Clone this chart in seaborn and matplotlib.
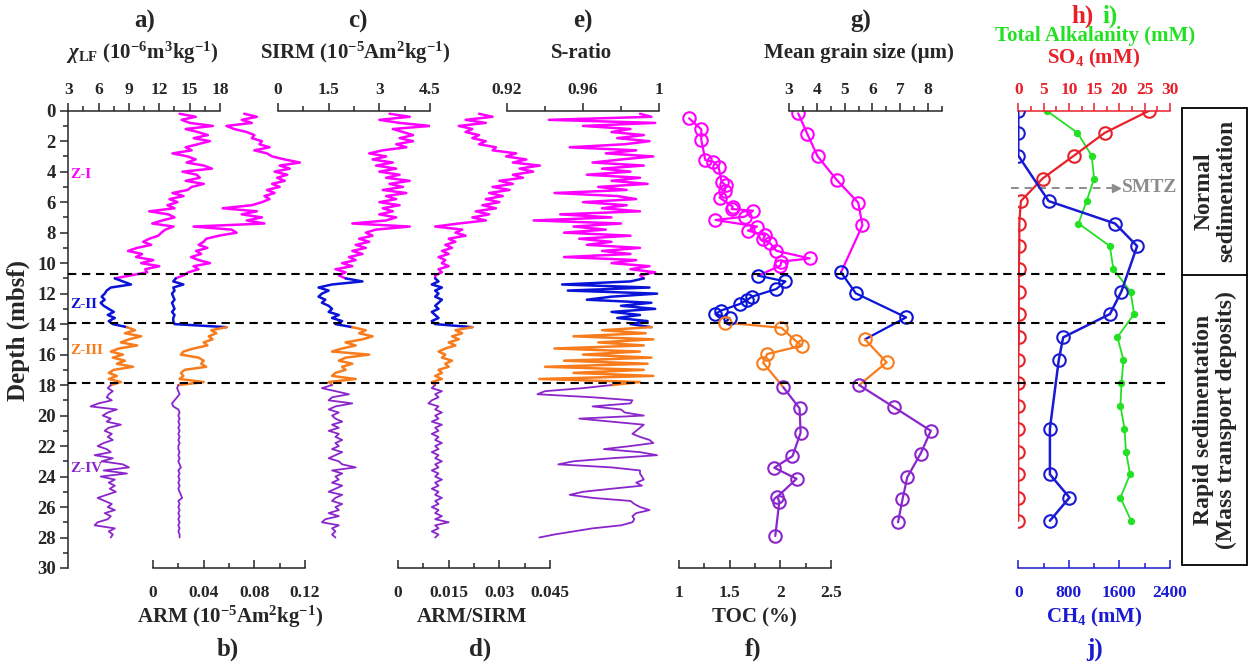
import numpy as np
import pandas as pd
import matplotlib.pyplot as plt
import matplotlib.ticker as mticker
from matplotlib.patches import Rectangle
from matplotlib.lines import Line2D
import seaborn as sns

sns.set_style('ticks')
plt.rcParams['font.family'] = ['Liberation Serif', 'DejaVu Serif']
plt.rcParams['font.weight'] = 'bold'
plt.rcParams['mathtext.fontset'] = 'custom'
plt.rcParams['mathtext.rm'] = 'Liberation Serif:bold'
plt.rcParams['mathtext.it'] = 'Liberation Serif:italic:bold'
plt.rcParams['mathtext.bf'] = 'Liberation Serif:bold'

# ---------------- data ----------------
# magnetic records, 20 cm sampling from 0.2 to 28.0 mbsf
depth = np.round(np.arange(0.2, 28.01, 0.2), 1)

chi_lf = [
    # Z-I
    14.0, 15.6, 14.2, 15.0, 17.3, 14.6, 15.8, 16.8, 15.4, 17.0,
    15.8, 14.6, 15.2, 13.3, 14.8, 15.6, 14.7, 16.4, 17.2, 14.3,
    15.7, 16.0, 14.6, 16.4, 15.2, 14.8, 13.3, 14.4, 13.0, 13.8,
    12.8, 13.5, 11.0, 12.9, 13.5, 12.3, 11.3, 13.4, 12.6, 12.2,
    11.9, 11.0, 10.4, 11.2, 9.8, 8.9, 10.3, 9.7, 11.4, 10.2,
    12.0, 10.6, 10.8, 9.2,
    # Z-II
    7.6, 8.4, 9.2, 7.2, 6.8, 6.6, 6.3, 6.6, 6.2, 6.5, 7.0, 7.5, 6.9, 7.6, 7.0, 7.4,
    # Z-III
    8.8, 9.6, 8.6, 10.2, 9.0, 8.2, 9.8, 8.0, 7.2, 8.4, 7.4, 8.6, 7.8, 9.4, 7.5, 7.0, 7.8, 7.0, 8.2,
    # Z-IV
    7.2, 6.9, 7.4, 7.0, 6.8, 7.3, 6.0, 5.2, 7.8, 6.9,
    6.4, 7.2, 6.8, 8.2, 7.0, 6.6, 7.3, 6.9, 7.4, 6.5,
    5.9, 6.8, 7.2, 5.6, 7.4, 6.3, 8.4, 9.0, 6.5, 8.8,
    6.2, 7.6, 7.0, 7.6, 7.1, 7.7, 6.8, 5.9, 6.6, 7.3,
    6.9, 7.6, 6.6, 7.2, 6.9, 5.9, 5.6, 7.6, 7.0, 7.4,
    7.2,
]

arm = [
    # Z-I
    0.072, 0.082, 0.070, 0.078, 0.058, 0.064, 0.074, 0.080, 0.078, 0.086,
    0.084, 0.092, 0.080, 0.090, 0.094, 0.104, 0.116, 0.100, 0.108, 0.096,
    0.106, 0.098, 0.104, 0.094, 0.100, 0.090, 0.096, 0.088, 0.092, 0.086,
    0.078, 0.055, 0.082, 0.070, 0.086, 0.074, 0.088, 0.032, 0.062, 0.066,
    0.052, 0.042, 0.040, 0.036, 0.043, 0.034, 0.038, 0.030, 0.036, 0.045,
    0.032, 0.036, 0.028, 0.024,
    # Z-II
    0.018, 0.016, 0.024, 0.016, 0.017, 0.015, 0.016, 0.017, 0.015, 0.016,
    0.017, 0.015, 0.017, 0.016, 0.016, 0.017,
    # Z-III
    0.058, 0.046, 0.050, 0.044, 0.047, 0.040, 0.043, 0.032, 0.024, 0.022,
    0.036, 0.040, 0.038, 0.042, 0.025, 0.022, 0.024, 0.021, 0.040,
    # Z-IV
    0.020, 0.019, 0.020, 0.021, 0.019, 0.017, 0.015, 0.016, 0.020, 0.021,
    0.020, 0.021, 0.020, 0.021, 0.020, 0.021, 0.020, 0.021, 0.020, 0.021,
    0.020, 0.020, 0.021, 0.020, 0.021, 0.020, 0.021, 0.022, 0.020, 0.021,
    0.020, 0.021, 0.020, 0.021, 0.020, 0.021, 0.022, 0.023, 0.020, 0.021,
    0.020, 0.021, 0.020, 0.021, 0.020, 0.021, 0.020, 0.021, 0.020, 0.021,
    0.021,
]

sirm = [
    # Z-I
    3.3, 3.9, 3.0, 3.6, 4.5, 3.4, 3.7, 4.0, 3.6, 4.0,
    3.5, 3.8, 3.1, 2.7, 3.2, 2.8, 3.4, 2.9, 3.5, 3.0,
    3.6, 3.2, 3.9, 3.3, 3.7, 3.1, 3.8, 3.2, 3.5, 3.0,
    3.6, 3.1, 3.4, 3.0, 3.5, 3.2, 2.2, 3.9, 2.9, 2.6,
    2.8, 2.4, 2.7, 2.3, 2.6, 2.2, 2.5, 2.1, 2.3, 1.9,
    2.2, 1.7, 2.0, 1.8,
    # Z-II
    2.0, 2.5, 1.6, 1.2, 1.5, 1.3, 1.2, 1.4, 1.3, 1.5, 1.6, 1.5, 1.8, 1.6, 1.9, 1.7,
    # Z-III
    2.2, 2.6, 2.4, 2.8, 2.5, 2.0, 2.3, 1.9, 1.6, 2.7, 2.0, 1.8, 2.2, 1.9, 2.0, 1.7, 1.6, 2.3, 1.5,
    # Z-IV
    1.6, 1.3, 1.7, 2.1, 1.6, 1.5, 2.2, 1.7, 1.5, 1.8,
    1.6, 1.7, 1.9, 1.6, 1.8, 1.5, 1.8, 1.7, 1.9, 1.7,
    1.8, 1.6, 1.9, 1.7, 1.5, 1.8, 1.9, 2.3, 1.6, 1.9,
    1.7, 1.8, 1.6, 1.9, 1.7, 1.5, 1.9, 1.7, 1.6, 1.9,
    1.7, 1.8, 1.5, 1.8, 1.4, 1.3, 1.8, 1.6, 1.7, 1.6,
    1.7,
]

arm_sirm = [
    # Z-I
    0.024, 0.028, 0.020, 0.026, 0.018, 0.022, 0.020, 0.024, 0.022, 0.026,
    0.024, 0.029, 0.028, 0.035, 0.032, 0.038, 0.034, 0.042, 0.036, 0.040,
    0.034, 0.037, 0.030, 0.034, 0.028, 0.033, 0.027, 0.031, 0.026, 0.030,
    0.025, 0.029, 0.023, 0.027, 0.022, 0.026, 0.018, 0.011, 0.019, 0.017,
    0.020, 0.015, 0.017, 0.014, 0.016, 0.013, 0.015, 0.012, 0.014, 0.013,
    0.015, 0.012, 0.013, 0.011,
    # Z-II
    0.011, 0.012, 0.010, 0.013, 0.011, 0.012, 0.011, 0.013, 0.012, 0.011,
    0.012, 0.010, 0.011, 0.012, 0.010, 0.011,
    # Z-III
    0.022, 0.017, 0.019, 0.016, 0.018, 0.015, 0.017, 0.014, 0.012, 0.014,
    0.013, 0.016, 0.014, 0.015, 0.012, 0.013, 0.011, 0.013, 0.010,
    # Z-IV
    0.011, 0.010, 0.013, 0.011, 0.012, 0.010, 0.009, 0.012, 0.011, 0.013,
    0.011, 0.012, 0.010, 0.013, 0.011, 0.012, 0.010, 0.012, 0.011, 0.013,
    0.011, 0.012, 0.010, 0.012, 0.011, 0.013, 0.011, 0.012, 0.010, 0.012,
    0.011, 0.013, 0.011, 0.012, 0.010, 0.012, 0.011, 0.013, 0.011, 0.012,
    0.010, 0.012, 0.011, 0.013, 0.011, 0.015, 0.011, 0.012, 0.010, 0.012,
    0.011,
]

s_ratio = [
    # Z-I
    0.990, 0.996, 0.942, 0.998, 0.960, 0.985, 0.975, 0.992, 0.978, 0.995,
    0.982, 0.953, 0.988, 0.972, 0.997, 0.980, 0.965, 0.992, 0.970, 0.985,
    0.962, 0.990, 0.975, 0.994, 0.968, 0.983, 0.945, 0.978, 0.988, 0.960,
    0.983, 0.970, 0.990, 0.948, 0.975, 0.934, 0.980, 0.955, 0.972, 0.950,
    0.985, 0.958, 0.975, 0.962, 0.990, 0.970, 0.985, 0.950, 0.988, 0.975,
    0.995, 0.985, 0.998, 0.990,
    # Z-II
    0.992, 0.985, 0.949, 0.995, 0.952, 0.999, 0.975, 0.962, 0.996, 0.980,
    0.998, 0.975, 0.990, 0.978, 0.994, 0.985,
    # Z-III
    0.996, 0.970, 0.993, 0.955, 0.997, 0.968, 0.992, 0.945, 0.990, 0.960,
    0.996, 0.950, 0.994, 0.940, 0.992, 0.955, 0.997, 0.937, 0.990,
    # Z-IV
    0.975, 0.960, 0.940, 0.936, 0.965, 0.986, 0.985, 0.965, 0.980, 0.982,
    0.992, 0.958, 0.975, 0.992, 0.990, 0.988, 0.986, 0.990, 0.995, 0.997,
    0.985, 0.971, 0.990, 0.999, 0.975, 0.955, 0.947, 0.975, 0.990, 0.990,
    0.991, 0.992, 0.988, 0.991, 0.975, 0.960, 0.953, 0.965, 0.985, 0.987,
    0.990, 0.995, 0.988, 0.986, 0.987, 0.986, 0.980, 0.965, 0.955, 0.945,
    0.937,
]

# TOC
toc_depth = [0.5, 1.22, 1.92, 3.24, 3.35, 3.67, 4.66, 4.88, 5.3, 5.7, 6.3, 6.45,
             6.56, 6.95, 7.17, 7.6, 7.87, 8.16, 8.44, 8.7, 9.19, 9.69, 9.9, 10.17,
             10.82, 11.2, 11.7, 12.2, 12.42, 12.68, 13.12, 13.34, 13.62,
             13.9, 14.24, 15.09, 15.42, 15.96, 16.53,
             18.15, 19.53, 21.13, 22.66, 23.42, 24.15, 25.33, 25.65, 27.9]
toc = [1.10, 1.22, 1.22, 1.26, 1.34, 1.39, 1.42, 1.46, 1.45, 1.40, 1.53, 1.52,
       1.73, 1.65, 1.36, 1.77, 1.68, 1.85, 1.83, 1.90, 1.96, 2.29, 2.01, 2.00,
       1.78, 2.05, 1.96, 1.72, 1.67, 1.60, 1.41, 1.36, 1.50,
       1.45, 2.01, 2.15, 2.21, 1.87, 1.83,
       2.03, 2.19, 2.20, 2.12, 1.94, 2.16, 1.97, 1.99, 1.95]
toc_counts = [24, 9, 6, 9]

# mean grain size
grain_depth = [0.17, 1.53, 3.0, 4.55, 6.04, 7.52,
               10.6, 11.98, 13.56,
               15.0, 16.51,
               18.0, 19.46, 21.0, 22.5, 24.05, 25.5, 27.0]
grain = [3.33, 3.66, 4.03, 4.72, 5.49, 5.64,
         4.87, 5.40, 7.21,
         5.73, 6.51,
         5.52, 6.78, 8.10, 7.73, 7.25, 7.08, 6.92]
grain_counts = [6, 3, 2, 7]

# pore water
pw_depth = [0, 1.45, 2.95, 4.45, 5.93, 7.4, 8.88, 10.39, 11.87, 13.34,
            14.85, 16.36, 17.89, 19.35, 20.86, 22.36, 23.86, 25.38, 26.9]
so4 = [25.9, 17.1, 11.0, 4.8, 0.5, 0.2, 0.2, 0.1, 0.1, 0.1,
       0.1, 0.0, 0.0, 0.0, 0.0, 0.0, 0.0, 0.0, 0.0]
alkalinity = [5.6, 11.7, 14.5, 15.0, 13.5, 11.9, 18.1, 18.8, 22.2, 22.9,
              19.6, 20.8, 20.4, 20.2, 21.0, 21.3, 22.1, 20.2, 22.3]
ch4_depth = [0, 1.45, 2.95, 5.93, 7.4, 8.88, 11.87, 13.34, 14.87, 16.36,
             20.86, 23.86, 25.38, 26.9]
ch4 = [0, 0, 0, 480, 1530, 1880, 1630, 1450, 710, 640, 500, 500, 810, 500]

zones = ['Z-I', 'Z-II', 'Z-III', 'Z-IV']
zone_bounds = [10.8, 14.0, 17.8]
zone_colors = {'Z-I': '#ff00ff', 'Z-II': '#0a14d8', 'Z-III': '#f87c1c', 'Z-IV': '#8a26cc'}
red, green, blue, grey = '#e8202a', '#22e022', '#1a1ad2', '#8c8c8c'
ink = '#262626'

# ---------------- layout ----------------
W, H = 1250, 666
Y0, Y1 = 110.7, 568.0  # pixel rows of depth 0 and 30
TICK_FS, TITLE_FS, LETTER_FS = 12.5, 15, 18

fig = plt.figure(figsize=(12.5, 6.66), dpi=100)


def px_axes(x0, x1):
    ax = fig.add_axes([x0 / W, 1 - Y1 / H, (x1 - x0) / W, (Y1 - Y0) / H])
    ax.set_facecolor('none')
    for s in ax.spines.values():
        s.set_visible(False)
    ax.tick_params(left=False, labelleft=False, bottom=False, labelbottom=False)
    return ax


def style_x(ax, lo, hi, major, minor, labels, side='top', color=ink):
    ax.set_xlim(lo, hi)
    ax.set_ylim(30, 0)
    ax.set_xlabel('')
    ax.set_ylabel('')
    ax.spines[side].set_visible(True)
    ax.spines[side].set_color(color)
    ax.spines[side].set_linewidth(1.1)
    ax.xaxis.set_ticks_position(side)
    ax.xaxis.set_major_locator(mticker.FixedLocator(major))
    ax.xaxis.set_major_formatter(mticker.FixedFormatter(labels))
    ax.xaxis.set_minor_locator(mticker.FixedLocator(minor))
    top = side == 'top'
    ax.tick_params(axis='x', which='both', top=top, labeltop=top, bottom=not top,
                   labelbottom=not top, direction='out' if top else 'in',
                   colors=color, labelsize=TICK_FS, width=1.1, pad=3 if top else 12)
    ax.tick_params(axis='x', which='major', length=6)
    ax.tick_params(axis='x', which='minor', length=3.5)
    ax.tick_params(axis='y', left=False, labelleft=False)


def zone_of(d):
    d = np.asarray(d)
    return np.select([d <= zone_bounds[0], d <= zone_bounds[1], d <= zone_bounds[2]],
                     zones[:3], zones[3])


def draw_curve(ax, vals, lw=1.8):
    df = pd.DataFrame({'depth': depth, 'val': vals, 'zone': zone_of(depth)})
    for z in zones:
        idx = np.flatnonzero(df['zone'].to_numpy() == z)
        seg = df.iloc[idx[0]: idx[-1] + 2]
        sns.lineplot(data=seg, x='val', y='depth', sort=False, estimator=None, orient='y',
                     color=zone_colors[z], lw=lw if z != 'Z-IV' else 1.3, ax=ax)


def draw_points(ax, d, vals, counts):
    df = pd.DataFrame({'depth': d, 'val': vals, 'zone': np.repeat(zones, counts)})
    for z in zones:
        idx = np.flatnonzero(df['zone'].to_numpy() == z)
        seg = df.iloc[idx[0]: idx[-1] + 2]
        sns.lineplot(data=seg, x='val', y='depth', sort=False, estimator=None, orient='y',
                     color=zone_colors[z], lw=1.6, ax=ax)
    for z in zones:
        seg = df[df['zone'] == z]
        sns.lineplot(data=seg, x='val', y='depth', sort=False, estimator=None, orient='y',
                     color=zone_colors[z], lw=0, marker='o', ms=9, mfc='none',
                     mec=zone_colors[z], mew=1.5, ax=ax)


def ftext(x, y, s, **kw):
    kw.setdefault('ha', 'center')
    kw.setdefault('va', 'center')
    fig.text(x / W, 1 - y / H, s, **kw)


# a) chi_LF  (also carries the depth axis)
ax_chi = px_axes(68.3, 220)
draw_curve(ax_chi, chi_lf)
style_x(ax_chi, 3, 18, [3, 6, 9, 12, 15, 18], np.arange(4.5, 18, 3),
        ['3', '6', '9', '12', '15', '18'])
ax_chi.spines['left'].set_visible(True)
ax_chi.spines['left'].set_color(ink)
ax_chi.spines['left'].set_linewidth(1.1)
ax_chi.yaxis.set_major_locator(mticker.MultipleLocator(2))
ax_chi.yaxis.set_minor_locator(mticker.MultipleLocator(1))
ax_chi.tick_params(axis='y', which='both', left=True, labelleft=True, direction='out',
                   colors=ink, labelsize=13.5, width=1.1, pad=3)
ax_chi.tick_params(axis='y', which='major', length=6)
ax_chi.tick_params(axis='y', which='minor', length=3.5)
for lab, d, z in [('Z-I', 4.2, 'Z-I'), ('Z-II', 12.7, 'Z-II'),
                  ('Z-III', 15.7, 'Z-III'), ('Z-IV', 23.45, 'Z-IV')]:
    ax_chi.text(3.2, d, lab, color=zone_colors[z], fontsize=11, va='center', ha='left')

# b) ARM
ax_arm = px_axes(153, 305)
draw_curve(ax_arm, arm)
style_x(ax_arm, 0, 0.12, [0, 0.04, 0.08, 0.12], np.arange(0.02, 0.12, 0.04),
        ['0', '0.04', '0.08', '0.12'], side='bottom')

# c) SIRM
ax_sirm = px_axes(278, 430)
draw_curve(ax_sirm, sirm)
style_x(ax_sirm, 0, 4.5, [0, 1.5, 3, 4.5], [0.75, 2.25, 3.75], ['0', '1.5', '3', '4.5'])

# d) ARM/SIRM
ax_ratio = px_axes(398, 550)
draw_curve(ax_ratio, arm_sirm)
style_x(ax_ratio, 0, 0.045, [0, 0.015, 0.03, 0.045], [0.0075, 0.0225, 0.0375],
        ['0', '0.015', '0.03', '0.045'], side='bottom')

# e) S-ratio
ax_s = px_axes(507, 659)
draw_curve(ax_s, s_ratio)
style_x(ax_s, 0.92, 1.0, [0.92, 0.96, 1.0], [0.94, 0.98], ['0.92', '0.96', '1'])

# f) TOC
ax_toc = px_axes(679, 831)
draw_points(ax_toc, toc_depth, toc, toc_counts)
style_x(ax_toc, 1, 2.5, [1, 1.5, 2, 2.5], [1.25, 1.75, 2.25], ['1', '1.5', '2', '2.5'],
        side='bottom')

# g) grain size
ax_gs = px_axes(789, 942)
draw_points(ax_gs, grain_depth, grain, grain_counts)
style_x(ax_gs, 3, 8.5, [3, 4, 5, 6, 7, 8], [3.5, 4.5, 5.5, 6.5, 7.5, 8.5],
        ['3', '4', '5', '6', '7', '8'])

# h) i) SO4 and alkalinity
ax_so4 = px_axes(1018.3, 1170)
sns.lineplot(x=alkalinity, y=pw_depth, sort=False, estimator=None, orient='y', color=green,
             lw=1.3, marker='o', ms=4.5, mfc=green, mec=green, ax=ax_so4)
sns.lineplot(x=so4, y=pw_depth, sort=False, estimator=None, orient='y', color=red,
             lw=1.6, marker='o', ms=9, mfc='none', mec=red, mew=1.5, ax=ax_so4)
style_x(ax_so4, 0, 30, [0, 5, 10, 15, 20, 25, 30], np.arange(2.5, 30, 5),
        ['0', '5', '10', '15', '20', '25', '30'], color=red)
ax_so4.plot([-1.4, 18.6], [5.05, 5.05], ls=(0, (4, 3)), color=grey, lw=1.4, clip_on=False)
ax_so4.plot([19.3], [5.05], marker='>', ms=6, color=grey, clip_on=False)
ax_so4.text(20.4, 5.05, 'SMTZ', color=grey, fontsize=14, va='center', ha='left')

# j) CH4
ax_ch4 = px_axes(1018.3, 1170)
sns.lineplot(x=ch4, y=ch4_depth, sort=False, estimator=None, orient='y', color=blue,
             lw=1.8, marker='o', ms=9, mfc='none', mec=blue, mew=1.5, ax=ax_ch4)
style_x(ax_ch4, 0, 2400, [0, 800, 1600, 2400], [400, 1200, 2000],
        ['0', '800', '1600', '2400'], side='bottom', color=blue)

# zone boundaries
ax_line = px_axes(68.3, 1170)
ax_line.set_xlim(0, 1)
ax_line.set_ylim(30, 0)
for d in [10.73, 13.95, 17.85]:
    ax_line.axhline(d, color='k', ls=(0, (4, 2.7)), lw=1.5)

# titles
ftext(18, 330, 'Depth (mbsf)', rotation=90, fontsize=18)
ftext(145, 21, 'a)', fontsize=LETTER_FS)
ftext(142, 53, r'$\chi_{\mathrm{LF}}$ (10$^{-6}$m$^{3}$kg$^{-1}$)', fontsize=TITLE_FS)
ftext(358, 21, 'c)', fontsize=LETTER_FS)
ftext(355, 53, r'SIRM (10$^{-5}$Am$^{2}$kg$^{-1}$)', fontsize=TITLE_FS)
ftext(583, 21, 'e)', fontsize=LETTER_FS)
ftext(582, 53, 'S-ratio', fontsize=TITLE_FS)
ftext(861, 21, 'g)', fontsize=LETTER_FS)
ftext(859, 53, 'Mean grain size (µm)', fontsize=TITLE_FS)
ftext(1083, 16, 'h)', fontsize=LETTER_FS, color=red)
ftext(1110, 16, 'i)', fontsize=LETTER_FS, color=green)
ftext(1095, 36, 'Total Alkalanity (mM)', fontsize=TITLE_FS, color=green)
ftext(1094, 58, r'SO$_4$ (mM)', fontsize=TITLE_FS, color=red)

ftext(230, 617, r'ARM (10$^{-5}$Am$^{2}$kg$^{-1}$)', fontsize=TITLE_FS)
ftext(228, 649, 'b)', fontsize=LETTER_FS)
ftext(472, 617, 'ARM/SIRM', fontsize=TITLE_FS)
ftext(480, 649, 'd)', fontsize=LETTER_FS)
ftext(754, 617, 'TOC (%)', fontsize=TITLE_FS)
ftext(753, 649, 'f)', fontsize=LETTER_FS)
ftext(1094, 617, r'CH$_4$ (mM)', fontsize=TITLE_FS, color=blue)
ftext(1095, 649, 'j)', fontsize=LETTER_FS, color=blue)

# sedimentation boxes
fig.add_artist(Rectangle((1181.7 / W, 1 - 565 / H), (1247 - 1181.7) / W, (565 - 108.3) / H,
                         transform=fig.transFigure, fill=False, lw=1.3, ec='k'))
fig.add_artist(Line2D([1181.7 / W, 1247 / W], [1 - 275 / H, 1 - 275 / H],
                      transform=fig.transFigure, lw=1.3, color='k'))
ftext(1215, 191, 'Normal\nsedimentation', rotation=90, fontsize=17, linespacing=1.1)
ftext(1215, 420, 'Rapid sedimentation\n(Mass transport deposits)', rotation=90,
      fontsize=17, linespacing=1.1)

fig.savefig('out.png', dpi=100)
